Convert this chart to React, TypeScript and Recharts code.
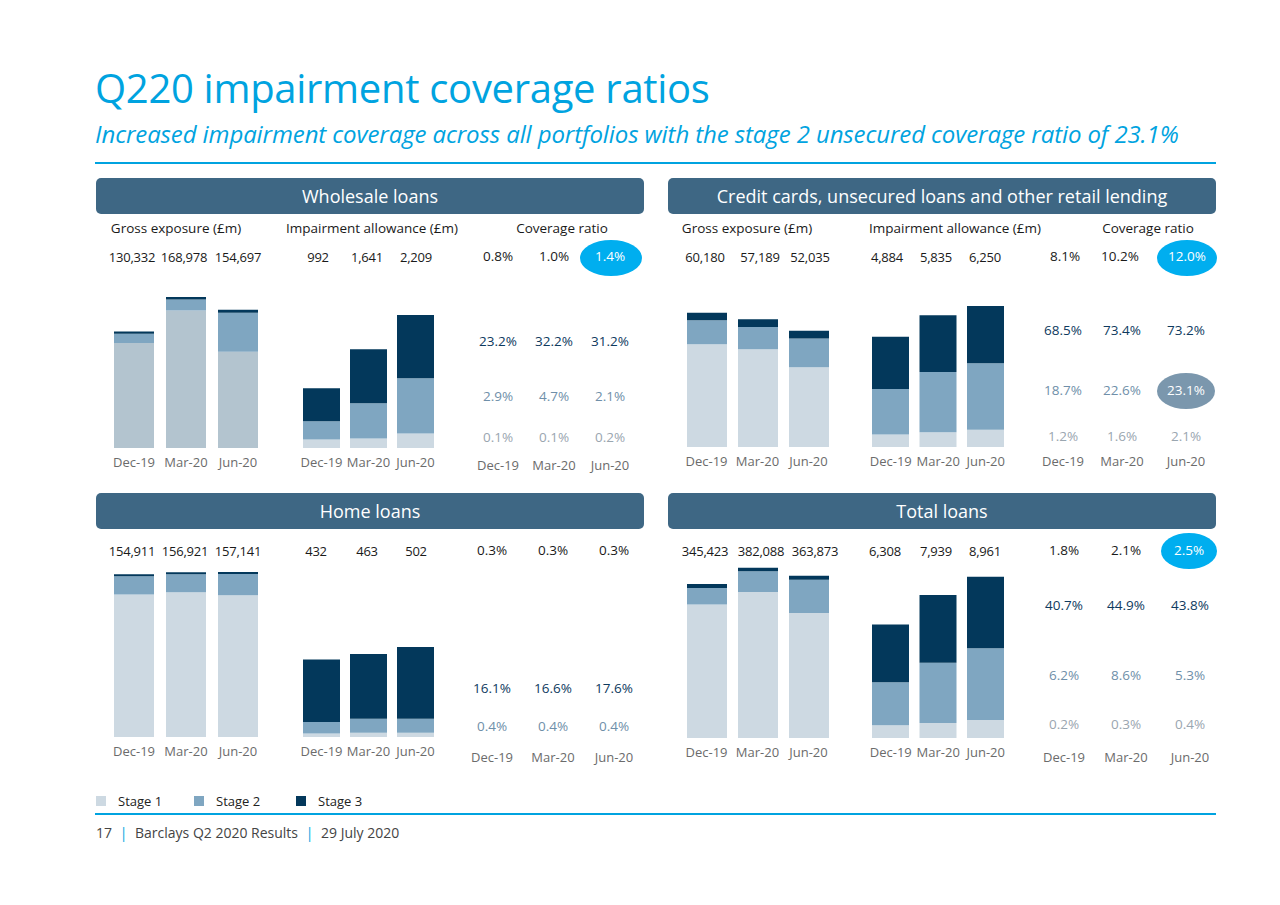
import React from "react";
import { BarChart, Bar, XAxis, YAxis } from "recharts";

const periods = ["Dec-19", "Mar-20", "Jun-20"];

// Wholesale loans (£m)
const wholesaleGrossStage1 = [117470, 153783, 107722];
const wholesaleGrossStage2 = [10500, 12400, 43600];
const wholesaleGrossStage3 = [2362, 2795, 3375];
const wholesaleGrossTotal = [130332, 168978, 154697];
const wholesaleImpStage1 = [140, 157, 240];
const wholesaleImpStage2 = [305, 584, 916];
const wholesaleImpStage3 = [547, 900, 1053];
const wholesaleImpTotal = [992, 1641, 2209];
const wholesaleCovTotal = ["0.8%", "1.0%", "1.4%"];
const wholesaleCovStage3 = ["23.2%", "32.2%", "31.2%"];
const wholesaleCovStage2 = ["2.9%", "4.7%", "2.1%"];
const wholesaleCovStage1 = ["0.1%", "0.1%", "0.2%"];

// Credit cards, unsecured loans and other retail lending (£m)
const cardsGrossStage1 = [46014, 43750, 35750];
const cardsGrossStage2 = [10786, 10000, 12860];
const cardsGrossStage3 = [3380, 3439, 3425];
const cardsGrossTotal = [60180, 57189, 52035];
const cardsImpStage1 = [552, 651, 767];
const cardsImpStage2 = [2017, 2672, 2940];
const cardsImpStage3 = [2315, 2512, 2543];
const cardsImpTotal = [4884, 5835, 6250];
const cardsCovTotal = ["8.1%", "10.2%", "12.0%"];
const cardsCovStage3 = ["68.5%", "73.4%", "73.2%"];
const cardsCovStage2 = ["18.7%", "22.6%", "23.1%"];
const cardsCovStage1 = ["1.2%", "1.6%", "2.1%"];

// Home loans (£m)
const homeGrossStage1 = [135611, 137821, 134941];
const homeGrossStage2 = [17400, 17200, 20300];
const homeGrossStage3 = [1900, 1900, 1900];
const homeGrossTotal = [154911, 156921, 157141];
const homeImpStage1 = [20, 24, 24];
const homeImpStage2 = [64, 78, 78];
const homeImpStage3 = [348, 361, 400];
const homeImpTotal = [432, 463, 502];
const homeCovTotal = ["0.3%", "0.3%", "0.3%"];
const homeCovStage3 = ["16.1%", "16.6%", "17.6%"];
const homeCovStage2 = ["0.4%", "0.4%", "0.4%"];

// Total loans (£m)
const totalGrossStage1 = [299223, 327588, 280173];
const totalGrossStage2 = [37200, 46400, 74700];
const totalGrossStage3 = [9000, 8100, 9000];
const totalGrossTotal = [345423, 382088, 363873];
const totalImpStage1 = [705, 833, 1000];
const totalImpStage2 = [2386, 3347, 3986];
const totalImpStage3 = [3217, 3759, 3975];
const totalImpTotal = [6308, 7939, 8961];
const totalCovTotal = ["1.8%", "2.1%", "2.5%"];
const totalCovStage3 = ["40.7%", "44.9%", "43.8%"];
const totalCovStage2 = ["6.2%", "8.6%", "5.3%"];
const totalCovStage1 = ["0.2%", "0.3%", "0.4%"];

const FONT = "'Open Sans', 'Noto Sans', sans-serif";
const CYAN = "#00a3e0";
const BAND = "#3e6784";
const STAGE1 = "#cdd9e2";
const STAGE1_DARK = "#b3c4cf";
const STAGE2 = "#7fa6c1";
const STAGE3 = "#03385b";
const AXIS_GREY = "#6b6b6b";

const fmt = (v: number) => v.toLocaleString("en-GB");

const toRows = (s1: number[], s2: number[], s3: number[]) =>
  periods.map((p, i) => ({ period: p, s1: s1[i], s2: s2[i], s3: s3[i] }));

function Txt({ x, y, children, size = 13, color = "#1a1a1a", weight = 400, style = {} }: any) {
  return (
    <div
      style={{
        position: "absolute",
        left: x,
        top: y,
        transform: "translate(-50%, -50%)",
        whiteSpace: "nowrap",
        fontSize: size,
        color,
        fontWeight: weight,
        fontFamily: FONT,
        lineHeight: 1,
        ...style,
      }}
    >
      {children}
    </div>
  );
}

function Oval({ x, y, rx, ry, color }: any) {
  return (
    <div
      style={{
        position: "absolute",
        left: x - rx,
        top: y - ry,
        width: rx * 2,
        height: ry * 2,
        borderRadius: "50%",
        background: color,
      }}
    />
  );
}

function Stacked({ rows, left, top, baseline, width, max, barSize, s1Color = STAGE1 }: any) {
  const plotH = baseline - top;
  return (
    <div style={{ position: "absolute", left, top }}>
      <BarChart width={width} height={plotH + 30} data={rows} margin={{ top: 0, right: 0, bottom: 0, left: 0 }}>
        <XAxis
          dataKey="period"
          axisLine={false}
          tickLine={false}
          interval={0}
          tickMargin={4}
          tick={{ fontSize: 13, fill: AXIS_GREY, fontFamily: FONT }}
        />
        <YAxis hide domain={[0, max]} />
        <Bar dataKey="s1" stackId="a" fill={s1Color} barSize={barSize} isAnimationActive={false} />
        <Bar dataKey="s2" stackId="a" fill={STAGE2} barSize={barSize} isAnimationActive={false} />
        <Bar dataKey="s3" stackId="a" fill={STAGE3} barSize={barSize} isAnimationActive={false} />
      </BarChart>
    </div>
  );
}

function Band({ x, y, w, label }: any) {
  return (
    <div
      style={{
        position: "absolute",
        left: x,
        top: y,
        width: w,
        height: 36,
        background: BAND,
        borderRadius: 5,
        color: "#fff",
        fontFamily: FONT,
        fontSize: 18,
        lineHeight: "36px",
        textAlign: "center",
      }}
    >
      {label}
    </div>
  );
}

function Values({ xs, y, values }: any) {
  return (
    <>
      {values.map((v: any, i: number) => (
        <Txt key={i} x={xs[i]} y={y} size={13} style={{ letterSpacing: -0.2 }}>
          {typeof v === "number" ? fmt(v) : v}
        </Txt>
      ))}
    </>
  );
}

function CovRow({ xs, y, values, color, size = 13.5 }: any) {
  return (
    <>
      {values.map((v: string, i: number) => (
        <Txt key={i} x={xs[i]} y={y} size={size} color={color}>
          {v}
        </Txt>
      ))}
    </>
  );
}

const COV_S3 = "#0e3a5e";
const COV_S2 = "#6f8fa9";
const COV_S1 = "#9aa6b0";

export default function App() {
  const wGrossX = [132, 184, 238];
  const wImpX = [318, 367, 416];

  const wCovX = [498, 554, 610];
  const cCovX = [1063, 1122, 1186];
  const hCovX = [492, 553, 614];
  const tCovX = [1064, 1126, 1190];

  return (
    <div style={{ position: "absolute", left: 0, top: 0, width: 1280, height: 905, background: "#fff", overflow: "hidden" }}>
      <div style={{ position: "absolute", left: 95, top: 64, fontFamily: FONT, fontSize: 40, color: CYAN, lineHeight: 1.2, letterSpacing: -0.3 }}>
        Q220 impairment coverage ratios
      </div>
      <div style={{ position: "absolute", left: 95, top: 120, fontFamily: FONT, fontSize: 24, fontStyle: "italic", color: CYAN, lineHeight: 1.2, letterSpacing: -0.1 }}>
        Increased impairment coverage across all portfolios with the stage 2 unsecured coverage ratio of 23.1%
      </div>
      <div style={{ position: "absolute", left: 95, top: 162, width: 1121, height: 2, background: CYAN }} />

      <Band x={96} y={178} w={548} label="Wholesale loans" />
      <Band x={668} y={178} w={548} label="Credit cards, unsecured loans and other retail lending" />
      <Band x={96} y={493} w={548} label="Home loans" />
      <Band x={668} y={493} w={548} label="Total loans" />

      {/* Wholesale */}
      <Txt x={176} y={229} size={13.5}>Gross exposure (£m)</Txt>
      <Txt x={372} y={229} size={13.5}>Impairment allowance (£m)</Txt>
      <Txt x={562} y={229} size={13.5}>Coverage ratio</Txt>
      <Values xs={wGrossX} y={257} values={wholesaleGrossTotal} />
      <Values xs={wImpX} y={257} values={wholesaleImpTotal} />
      <Oval x={611} y={258} rx={31} ry={18} color="#00aeef" />
      <CovRow xs={wCovX} y={257} values={wholesaleCovTotal.slice(0, 2)} color="#1a1a1a" />
      <Txt x={wCovX[2]} y={257} size={13.5} color="#fff">{wholesaleCovTotal[2]}</Txt>
      <Stacked rows={toRows(wholesaleGrossStage1, wholesaleGrossStage2, wholesaleGrossStage3)} left={108} top={290} baseline={448} width={156} max={176800} barSize={40} s1Color={STAGE1_DARK} />
      <Stacked rows={toRows(wholesaleImpStage1, wholesaleImpStage2, wholesaleImpStage3)} left={297.5} top={290} baseline={448} width={141} max={2623} barSize={37} />
      <CovRow xs={wCovX} y={342} values={wholesaleCovStage3} color={COV_S3} />
      <CovRow xs={wCovX} y={397} values={wholesaleCovStage2} color={COV_S2} />
      <CovRow xs={wCovX} y={438} values={wholesaleCovStage1} color={COV_S1} />
      <CovRow xs={wCovX} y={465} values={periods} color={AXIS_GREY} size={13} />

      {/* Credit cards */}
      <Txt x={747} y={229} size={13.5}>Gross exposure (£m)</Txt>
      <Txt x={955} y={229} size={13.5}>Impairment allowance (£m)</Txt>
      <Txt x={1148} y={229} size={13.5}>Coverage ratio</Txt>
      <Values xs={[705, 760, 810]} y={257} values={cardsGrossTotal} />
      <Values xs={[887, 936, 985]} y={257} values={cardsImpTotal} />
      <Oval x={1187} y={258} rx={30} ry={18} color="#00aeef" />
      <CovRow xs={[1065, 1120]} y={257} values={cardsCovTotal.slice(0, 2)} color="#1a1a1a" />
      <Txt x={1187} y={257} size={13.5} color="#fff">{cardsCovTotal[2]}</Txt>
      <Stacked rows={toRows(cardsGrossStage1, cardsGrossStage2, cardsGrossStage3)} left={680.5} top={290} baseline={447} width={153} max={70340} barSize={40} />
      <Stacked rows={toRows(cardsImpStage1, cardsImpStage2, cardsImpStage3)} left={867} top={290} baseline={447} width={142.5} max={6955} barSize={37} />
      <CovRow xs={cCovX} y={331} values={cardsCovStage3} color={COV_S3} />
      <Oval x={1186} y={391} rx={29} ry={18} color="#7b97ad" />
      <CovRow xs={cCovX.slice(0, 2)} y={391} values={cardsCovStage2.slice(0, 2)} color={COV_S2} />
      <Txt x={cCovX[2]} y={391} size={13.5} color="#fff">{cardsCovStage2[2]}</Txt>
      <CovRow xs={cCovX} y={437} values={cardsCovStage1} color={COV_S1} />
      <CovRow xs={cCovX} y={461} values={periods} color={AXIS_GREY} size={13} />

      {/* Home loans */}
      <Values xs={[132, 185, 238]} y={551} values={homeGrossTotal} />
      <Values xs={[316, 367, 416]} y={551} values={homeImpTotal} />
      <CovRow xs={hCovX} y={551} values={homeCovTotal} color="#1a1a1a" />
      <Stacked rows={toRows(homeGrossStage1, homeGrossStage2, homeGrossStage3)} left={108} top={565} baseline={737} width={156} max={163740} barSize={40} />
      <Stacked rows={toRows(homeImpStage1, homeImpStage2, homeImpStage3)} left={297.5} top={565} baseline={737} width={141} max={960} barSize={37} />
      <CovRow xs={hCovX} y={689} values={homeCovStage3} color={COV_S3} />
      <CovRow xs={hCovX} y={727} values={homeCovStage2} color={COV_S2} />
      <CovRow xs={hCovX} y={757} values={periods} color={AXIS_GREY} size={13} />

      {/* Total loans */}
      <Values xs={[705, 761, 815]} y={551} values={totalGrossTotal} />
      <Values xs={[885, 936, 985]} y={551} values={totalImpTotal} />
      <Oval x={1189} y={551} rx={28} ry={18} color="#00aeef" />
      <CovRow xs={tCovX.slice(0, 2)} y={551} values={totalCovTotal.slice(0, 2)} color="#1a1a1a" />
      <Txt x={1189} y={551} size={13.5} color="#fff">{totalCovTotal[2]}</Txt>
      <Stacked rows={toRows(totalGrossStage1, totalGrossStage2, totalGrossStage3)} left={680.5} top={565} baseline={738} width={153} max={388000} barSize={40} />
      <Stacked rows={toRows(totalImpStage1, totalImpStage2, totalImpStage3)} left={867} top={565} baseline={738} width={142.5} max={9610} barSize={37} />
      <CovRow xs={tCovX} y={606} values={totalCovStage3} color={COV_S3} />
      <CovRow xs={tCovX} y={676} values={totalCovStage2} color={COV_S2} />
      <CovRow xs={tCovX} y={725} values={totalCovStage1} color={COV_S1} />
      <CovRow xs={tCovX} y={757} values={periods} color={AXIS_GREY} size={13} />

      {/* Legend */}
      {[
        { label: "Stage 1", color: STAGE1, x: 96 },
        { label: "Stage 2", color: STAGE2, x: 194 },
        { label: "Stage 3", color: STAGE3, x: 296 },
      ].map((l) => (
        <div key={l.label} style={{ position: "absolute", left: l.x, top: 792, display: "flex", alignItems: "center", fontFamily: FONT, fontSize: 13, color: "#222" }}>
          <span style={{ display: "inline-block", width: 10, height: 10, background: l.color, marginRight: 12 }} />
          {l.label}
        </div>
      ))}
      <div style={{ position: "absolute", left: 95, top: 813, width: 1121, height: 2, background: CYAN }} />

      {/* Footer */}
      <div style={{ position: "absolute", left: 96, top: 823, fontFamily: FONT, fontSize: 14, color: "#444", whiteSpace: "nowrap" }}>
        17 <span style={{ color: CYAN, margin: "0 4px" }}>|</span> Barclays Q2 2020 Results{" "}
        <span style={{ color: CYAN, margin: "0 4px" }}>|</span> 29 July 2020
      </div>
    </div>
  );
}
